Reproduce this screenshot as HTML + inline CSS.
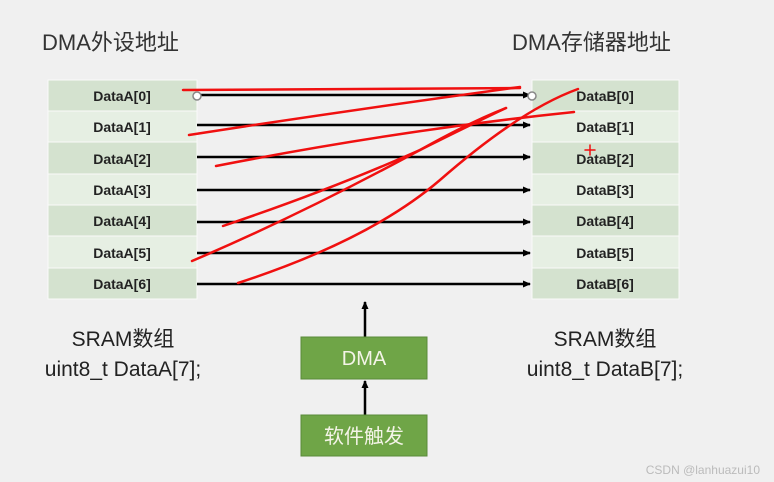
<!DOCTYPE html>
<html><head><meta charset="utf-8"><style>
body{margin:0;width:774px;height:482px;background:#f0f0f0;overflow:hidden;font-family:"Liberation Sans","Noto Sans CJK SC",sans-serif;}
</style></head><body>
<svg width="774" height="482" xmlns="http://www.w3.org/2000/svg" style="position:absolute;left:0;top:0">
<defs><marker id="ah" markerWidth="8" markerHeight="8" refX="7" refY="4" orient="auto" markerUnits="userSpaceOnUse"><path d="M0,0.5 L8,4 L0,7.5 z" fill="#000"/></marker></defs>
<g font-family="Liberation Sans, Noto Sans CJK SC, sans-serif" fill="#333" font-size="22">
<text x="42" y="50">DMA外设地址</text>
<text x="512" y="50">DMA存储器地址</text>
</g>
<g stroke="#fafafa" stroke-width="1">
<rect x="48" y="80" width="149" height="31" fill="#d4e2cf"/>
<rect x="48" y="111" width="149" height="31" fill="#e6efe3"/>
<rect x="48" y="142" width="149" height="32" fill="#d4e2cf"/>
<rect x="48" y="174" width="149" height="31" fill="#e6efe3"/>
<rect x="48" y="205" width="149" height="31" fill="#d4e2cf"/>
<rect x="48" y="236" width="149" height="32" fill="#e6efe3"/>
<rect x="48" y="268" width="149" height="31" fill="#d4e2cf"/>
<rect x="532" y="80" width="147" height="31" fill="#d4e2cf"/>
<rect x="532" y="111" width="147" height="31" fill="#e6efe3"/>
<rect x="532" y="142" width="147" height="32" fill="#d4e2cf"/>
<rect x="532" y="174" width="147" height="31" fill="#e6efe3"/>
<rect x="532" y="205" width="147" height="31" fill="#d4e2cf"/>
<rect x="532" y="236" width="147" height="32" fill="#e6efe3"/>
<rect x="532" y="268" width="147" height="31" fill="#d4e2cf"/>
</g>
<g font-family="Liberation Sans, sans-serif" font-weight="bold" font-size="14" fill="#222" text-anchor="middle">
<text x="122" y="101">DataA[0]</text><text x="122" y="132">DataA[1]</text><text x="122" y="164">DataA[2]</text><text x="122" y="195">DataA[3]</text><text x="122" y="226">DataA[4]</text><text x="122" y="258">DataA[5]</text><text x="122" y="289">DataA[6]</text>
<text x="605" y="101">DataB[0]</text><text x="605" y="132">DataB[1]</text><text x="605" y="164">DataB[2]</text><text x="605" y="195">DataB[3]</text><text x="605" y="226">DataB[4]</text><text x="605" y="258">DataB[5]</text><text x="605" y="289">DataB[6]</text>
</g>
<g stroke="#000" stroke-width="2.5" marker-end="url(#ah)">
<line x1="197" y1="95" x2="530" y2="95"/>
<line x1="197" y1="125" x2="530" y2="125"/>
<line x1="197" y1="157" x2="530" y2="157"/>
<line x1="197" y1="190" x2="530" y2="190"/>
<line x1="197" y1="222" x2="530" y2="222"/>
<line x1="197" y1="253" x2="530" y2="253"/>
<line x1="197" y1="284" x2="530" y2="284"/>
<line x1="365" y1="337" x2="365" y2="302"/>
<line x1="365" y1="415" x2="365" y2="381"/>
</g>
<circle cx="197" cy="96" r="4" fill="#fff" stroke="#888" stroke-width="1.5"/>
<circle cx="532" cy="96" r="4" fill="#fff" stroke="#888" stroke-width="1.5"/>
<g stroke="#f01010" stroke-width="2.5" fill="none" stroke-linecap="round">
<path d="M183,90 L520,88"/>
<path d="M189,135 Q350,110 520,87"/>
<path d="M216,166 Q400,130 574,112"/>
<path d="M223,226 Q330,190 420,150 Q470,125 506,108"/>
<path d="M192,261 Q300,215 420,150 Q470,122 506,108"/>
<path d="M238,283 Q370,240 440,180 Q520,110 578,89"/>
<path d="M585,150 L595,150 M590,145 L590,155" stroke-width="1.5"/>
</g>
<rect x="301" y="337" width="126" height="42" fill="#6fa547" stroke="#5a8a3a"/>
<rect x="301" y="415" width="126" height="41" fill="#6fa547" stroke="#5a8a3a"/>
<g font-family="Liberation Sans, Noto Sans CJK SC, sans-serif" font-size="20" fill="#f4f4e8" text-anchor="middle">
<text x="364" y="365">DMA</text>
<text x="364" y="443">软件触发</text>
</g>
<g font-family="Liberation Sans, Noto Sans CJK SC, sans-serif" font-size="21" fill="#222" text-anchor="middle">
<text x="123" y="346">SRAM数组</text>
<text x="123" y="376">uint8_t DataA[7];</text>
<text x="605" y="346">SRAM数组</text>
<text x="605" y="376">uint8_t DataB[7];</text>
</g>
<text x="760" y="474" font-family="Liberation Sans, sans-serif" font-size="12" fill="#bbb" text-anchor="end">CSDN @lanhuazui10</text>
</svg>
</body></html>
